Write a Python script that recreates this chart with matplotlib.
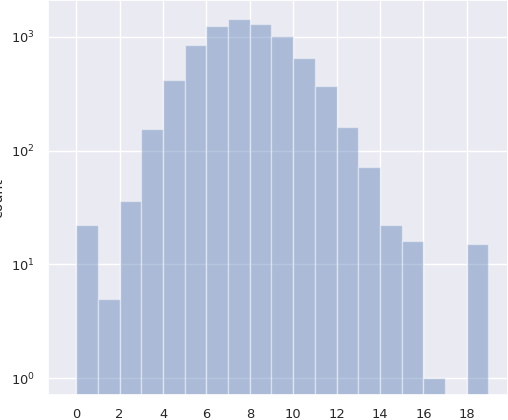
import matplotlib
matplotlib.use("Agg")
import matplotlib.pyplot as plt
import seaborn as sns

sns.set_theme(style="darkgrid", font_scale=0.85)

bins = list(range(19))
counts = [22, 5, 36, 155, 420, 850, 1250, 1450, 1300, 1030, 650, 370, 160, 72, 22, 16, 1, 0, 15]

fig, ax = plt.subplots(figsize=(5.08, 4.20), dpi=100)
ax.bar(bins, counts, width=1, align="edge", color="#4c72b0", alpha=0.4,
       edgecolor="white", linewidth=1)
ax.set_yscale("log")
ax.set_ylim(0.71, 2115)
ax.set_xlim(-1.3, 19.9)
ax.set_xticks(range(0, 19, 2))
ax.set_ylabel("count")
fig.subplots_adjust(left=48 / 508, right=1.0, top=1.0, bottom=1 - 395 / 420)
fig.savefig("out.png", dpi=100)
